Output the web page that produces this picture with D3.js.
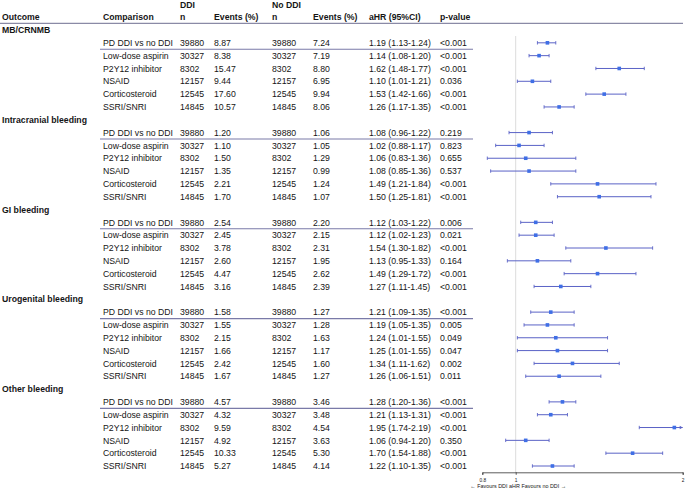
<!DOCTYPE html>
<html><head><meta charset="utf-8">
<script src="https://cdn.jsdelivr.net/npm/d3@7"></script>
<style>body{margin:0;background:#fff}svg{display:block}</style>
</head><body>
<script>
const outcomes = ["MB/CRNMB","Intracranial bleeding","GI bleeding","Urogenital bleeding","Other bleeding"];
const comparisons = ["PD DDI vs no DDI","Low-dose aspirin","P2Y12 inhibitor","NSAID","Corticosteroid","SSRI/SNRI"];
const nDDI = [39880,30327,8302,12157,12545,14845];
const nNoDDI = [39880,30327,8302,12157,12545,14845];
const eventsDDI = [
  ["8.87","8.38","15.47","9.44","17.60","10.57"],
  ["1.20","1.10","1.50","1.35","2.21","1.70"],
  ["2.54","2.45","3.78","2.60","4.47","3.16"],
  ["1.58","1.55","2.15","1.66","2.42","1.67"],
  ["4.57","4.32","9.59","4.92","10.33","5.27"]];
const eventsNoDDI = [
  ["7.24","7.19","8.80","6.95","9.94","8.06"],
  ["1.06","1.05","1.29","0.99","1.24","1.07"],
  ["2.20","2.15","2.31","1.95","2.62","2.39"],
  ["1.27","1.28","1.63","1.17","1.60","1.27"],
  ["3.46","3.48","4.54","3.63","5.30","4.14"]];
const ahr = [
  [1.19,1.14,1.62,1.10,1.53,1.26],
  [1.08,1.02,1.06,1.08,1.49,1.50],
  [1.12,1.12,1.54,1.13,1.49,1.27],
  [1.21,1.19,1.24,1.25,1.34,1.26],
  [1.28,1.21,1.95,1.06,1.70,1.22]];
const lower = [
  [1.13,1.08,1.48,1.01,1.42,1.17],
  [0.96,0.88,0.83,0.85,1.21,1.25],
  [1.03,1.02,1.30,0.95,1.29,1.11],
  [1.09,1.05,1.01,1.01,1.11,1.06],
  [1.20,1.13,1.74,0.94,1.54,1.10]];
const upper = [
  [1.24,1.20,1.77,1.21,1.66,1.35],
  [1.22,1.17,1.36,1.36,1.84,1.81],
  [1.22,1.23,1.82,1.33,1.72,1.45],
  [1.35,1.35,1.55,1.55,1.62,1.51],
  [1.36,1.31,2.19,1.20,1.88,1.35]];
const pvals = [
  ["<0.001","<0.001","<0.001","0.036","<0.001","<0.001"],
  ["0.219","0.823","0.655","0.537","<0.001","<0.001"],
  ["0.006","0.021","<0.001","0.164","<0.001","<0.001"],
  ["<0.001","0.005","0.049","0.047","0.002","0.011"],
  ["<0.001","<0.001","<0.001","0.350","<0.001","<0.001"]];
const xTicks = [0.8, 1, 2];
const xDomain = [0.8, 2];
const refValue = 1;

const W = 685, H = 489;
const svg = d3.select("body").append("svg").attr("width", W).attr("height", H)
  .style("font-family", "'Liberation Sans', Arial, Helvetica, sans-serif");

const rows = [];
outcomes.forEach((o, gi) => {
  rows.push({type: "group", label: o});
  comparisons.forEach((c, ci) => {
    rows.push({type: "item", gi, ci, comp: c,
      n1: nDDI[ci], e1: eventsDDI[gi][ci], n2: nNoDDI[ci], e2: eventsNoDDI[gi][ci],
      est: ahr[gi][ci], lo: lower[gi][ci], hi: upper[gi][ci], p: pvals[gi][ci]});
  });
});

const y = d3.scaleLinear().domain([0, rows.length - 1]).range([30, 466]);
const x = d3.scaleLinear().domain(xDomain).range([482.3, 682.7]);

const fs = 8.7, txt = "#151515", bl = 3.2;
const cols = {outcome: 2, comp: 103, n1: 180, e1: 214, n2: 272, e2: 313, ahr: 369, p: 440};

const hdr = svg.append("g").attr("fill", txt).attr("font-size", fs).attr("font-weight", "bold");
[["DDI", cols.n1, 5], ["No DDI", cols.n2, 5],
 ["Outcome", cols.outcome, 17], ["Comparison", cols.comp, 17], ["n", cols.n1, 17], ["Events (%)", cols.e1, 17],
 ["n", cols.n2, 17], ["Events (%)", cols.e2, 17], ["aHR (95%CI)", cols.ahr, 17], ["p-value", cols.p, 17]]
 .forEach(([t, xx, yy]) => hdr.append("text").attr("x", xx).attr("y", yy + bl).text(t));
svg.append("line").attr("x1", 0).attr("x2", 683).attr("y1", 23.3).attr("y2", 23.3)
  .attr("stroke", "#8a8aa6").attr("stroke-width", 1.3);

svg.append("line").attr("x1", x(refValue)).attr("x2", x(refValue)).attr("y1", 36).attr("y2", 472.3)
  .attr("stroke", "#dcdcdc").attr("stroke-width", 1);

const body = svg.append("g").attr("fill", txt).attr("font-size", fs);
rows.forEach((r, i) => {
  const yy = y(i);
  if (r.type === "group") {
    body.append("text").attr("x", cols.outcome).attr("y", yy + bl).attr("font-weight", "bold").text(r.label);
    return;
  }
  [[r.comp, cols.comp], [r.n1, cols.n1], [r.e1, cols.e1], [r.n2, cols.n2], [r.e2, cols.e2],
   [`${r.est.toFixed(2)} (${r.lo.toFixed(2)}-${r.hi.toFixed(2)})`, cols.ahr], [r.p, cols.p]]
   .forEach(([t, xx]) => body.append("text").attr("x", xx).attr("y", yy + bl).text(t));
  if (r.ci === 0) {
    const ys = (y(i) + y(i + 1)) / 2;
    svg.append("line").attr("x1", 100).attr("x2", 473).attr("y1", ys).attr("y2", ys)
      .attr("stroke", "#7a7aa8").attr("stroke-width", 1.2);
  }
});

const ciCol = "#5a62c6", ptCol = "#3f6fe6";
const fg = svg.append("g");
rows.filter(r => r.type === "item").forEach(r => {
  const i = rows.indexOf(r), yy = y(i);
  const lo = Math.max(r.lo, xDomain[0]), hi = Math.min(r.hi, xDomain[1]);
  fg.append("line").attr("x1", x(lo)).attr("x2", x(hi)).attr("y1", yy).attr("y2", yy)
    .attr("stroke", ciCol).attr("stroke-width", 1);
  if (r.lo >= xDomain[0])
    fg.append("line").attr("x1", x(r.lo)).attr("x2", x(r.lo)).attr("y1", yy - 1.7).attr("y2", yy + 1.7)
      .attr("stroke", ciCol).attr("stroke-width", 0.9);
  if (r.hi <= xDomain[1])
    fg.append("line").attr("x1", x(r.hi)).attr("x2", x(r.hi)).attr("y1", yy - 1.7).attr("y2", yy + 1.7)
      .attr("stroke", ciCol).attr("stroke-width", 0.9);
  else
    fg.append("path").attr("d", `M${x(hi) - 3},${yy - 1.8}L${x(hi)},${yy}L${x(hi) - 3},${yy + 1.8}Z`)
      .attr("fill", ciCol);
  fg.append("rect").attr("x", x(r.est) - 1.8).attr("y", yy - 1.8).attr("width", 3.6).attr("height", 3.6)
    .attr("fill", ptCol);
});

const ax = svg.append("g").attr("transform", "translate(0,472.3)")
  .call(d3.axisBottom(x).tickValues(xTicks).tickSize(2.5).tickFormat(d => String(d)));
ax.select(".domain").attr("stroke", "#333").attr("stroke-width", 0.8);
ax.selectAll(".tick line").attr("stroke", "#333").attr("stroke-width", 0.8);
ax.selectAll(".tick text").attr("font-size", 4.8).attr("fill", txt).attr("dy", 0).attr("y", 9.8)
  .style("font-family", "'Liberation Sans', Arial, sans-serif");

const cap = svg.append("g").attr("font-size", 5.4).attr("fill", txt);
cap.append("text").attr("x", 507.5).attr("y", 488).attr("text-anchor", "end").text("\u2190 Favours DDI");
cap.append("text").attr("x", 514.5).attr("y", 488).attr("text-anchor", "middle").text("aHR");
cap.append("text").attr("x", 521.5).attr("y", 488).attr("text-anchor", "start").text("Favours no DDI \u2192");
</script>
</body></html>
